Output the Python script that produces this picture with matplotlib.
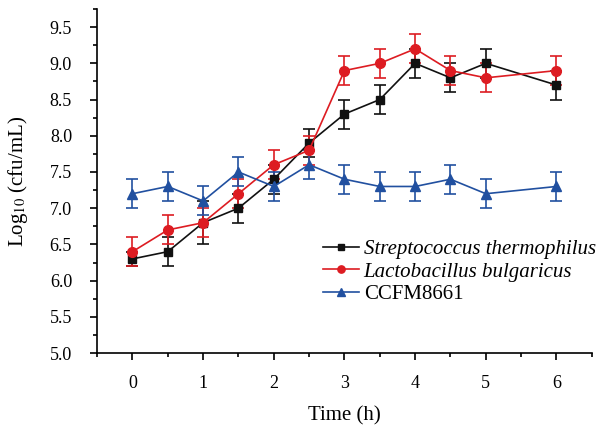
import matplotlib
matplotlib.use('Agg')
import matplotlib.pyplot as plt
from matplotlib.lines import Line2D
from matplotlib.ticker import MultipleLocator

plt.rcParams['font.family'] = ['Liberation Serif', 'DejaVu Serif']
plt.rcParams['mathtext.fontset'] = 'stix'

time_h = [0, 0.5, 1, 1.5, 2, 2.5, 3, 3.5, 4, 4.5, 5, 6]

st_mean = [6.3, 6.4, 6.8, 7.0, 7.4, 7.9, 8.3, 8.5, 9.0, 8.8, 9.0, 8.7]
st_err = [0.1, 0.2, 0.3, 0.2, 0.2, 0.2, 0.2, 0.2, 0.2, 0.2, 0.2, 0.2]

lb_mean = [6.4, 6.7, 6.8, 7.2, 7.6, 7.8, 8.9, 9.0, 9.2, 8.9, 8.8, 8.9]
lb_err = [0.2, 0.2, 0.2, 0.2, 0.2, 0.2, 0.2, 0.2, 0.2, 0.2, 0.2, 0.2]

cc_mean = [7.2, 7.3, 7.1, 7.5, 7.3, 7.6, 7.4, 7.3, 7.3, 7.4, 7.2, 7.3]
cc_err = [0.2, 0.2, 0.2, 0.2, 0.2, 0.2, 0.2, 0.2, 0.2, 0.2, 0.2, 0.2]

labels = ['Streptococcus thermophilus', 'Lactobacillus bulgaricus', 'CCFM8661']

fig = plt.figure(figsize=(6.07, 4.29), dpi=100)
ax = fig.add_axes([0.16, 0.177, 0.815, 0.802])

series = [
    (st_mean, st_err, '#111111', 's', 6, labels[0]),
    (lb_mean, lb_err, '#dd1c22', 'o', 7, labels[1]),
    (cc_mean, cc_err, '#2150a0', '^', 7.5, labels[2]),
]
handles = []
for mean, err, col, mk, ms, lab in series:
    ax.errorbar(time_h, mean, yerr=err, color=col, marker=mk, markersize=ms,
                linewidth=1.2, elinewidth=1.2, capsize=4, capthick=1.2)
    # legend proxy: line + small marker, no error bar
    handles.append(Line2D([], [], color=col, marker=mk, markersize=ms * 0.75,
                          linewidth=1.2, label=lab))

ax.set_xlim(-0.5, 6.5)
ax.set_ylim(5.0, 9.75)
ax.xaxis.set_major_locator(MultipleLocator(1))
ax.xaxis.set_minor_locator(MultipleLocator(0.5))
ax.yaxis.set_major_locator(MultipleLocator(0.5))
ax.yaxis.set_minor_locator(MultipleLocator(0.25))
ax.yaxis.set_major_formatter(plt.FormatStrFormatter('%.1f'))

for s in ['top', 'right']:
    ax.spines[s].set_visible(False)
for s in ['left', 'bottom']:
    ax.spines[s].set_linewidth(1.2)

ax.tick_params(which='major', direction='out', length=5, width=1.2, labelsize=13)
ax.tick_params(which='minor', direction='out', length=3, width=1.2)
ax.tick_params(axis='y', which='major', pad=13)
ax.tick_params(axis='x', which='major', pad=11)

ax.set_xlabel('Time (h)', fontsize=15, labelpad=10)
ax.set_ylabel('Log$_{10}$ (cfu/mL)', fontsize=15, labelpad=14)

leg = ax.legend(handles=handles, loc='upper left', bbox_to_anchor=(0.44, 0.355),
                frameon=False, fontsize=15, handlelength=1.7, handletextpad=0.25,
                labelspacing=0.15, borderaxespad=0)
for t in leg.get_texts()[:2]:
    t.set_fontstyle('italic')

fig.savefig('out.png', dpi=100)
